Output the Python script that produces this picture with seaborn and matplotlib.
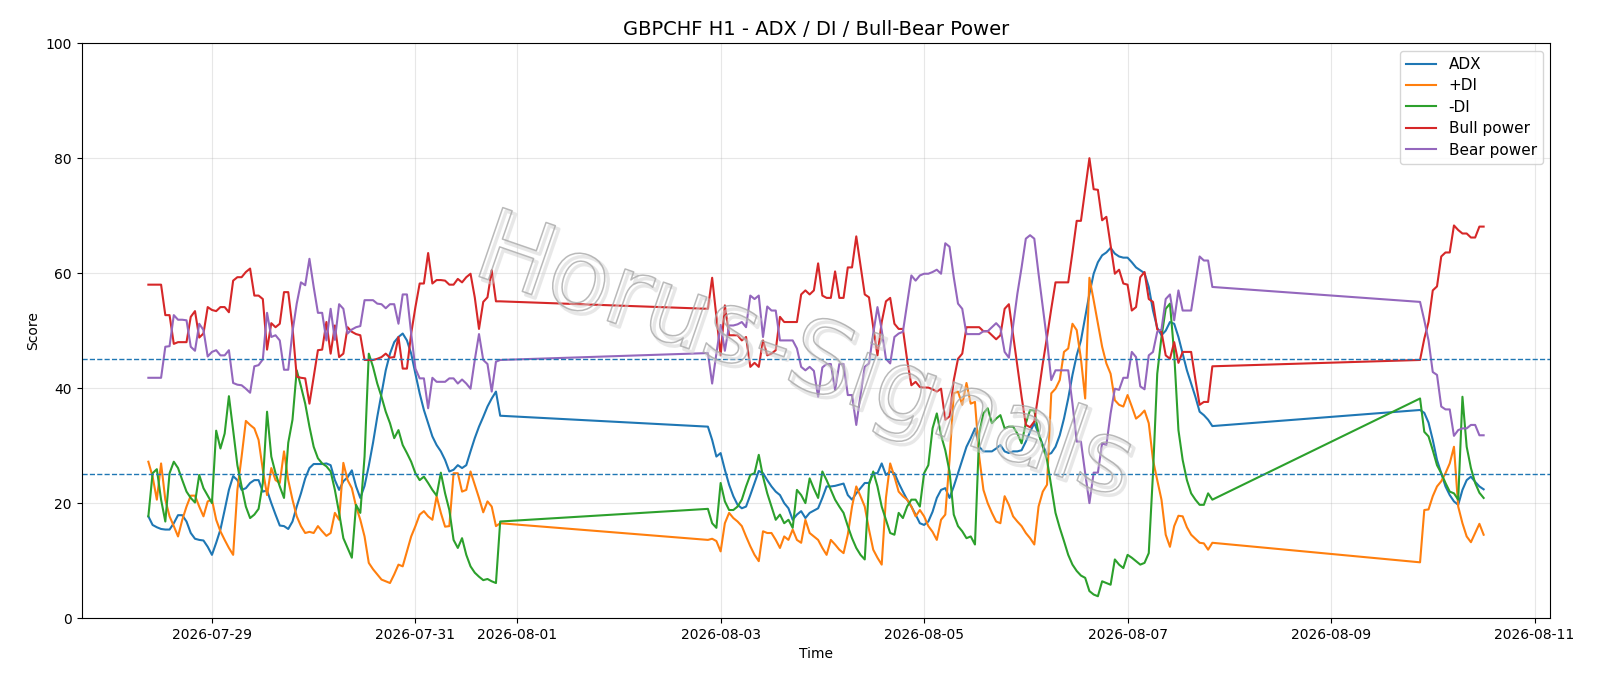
import numpy as np
import pandas as pd
import matplotlib
matplotlib.use('Agg')
import matplotlib.pyplot as plt
import matplotlib.dates as mdates
import matplotlib.patheffects as pe
import seaborn as sns

# hourly bars, three trading blocks (weekend gaps in between)
seg_starts = ['2026-07-28 09:00', '2026-08-02 21:00', '2026-08-09 21:00']

series_names = ['ADX', '+DI', '-DI', 'Bull power', 'Bear power']
levels = [25, 45]

adx_1 = [17.7, 16.2, 15.8, 15.5, 15.4, 15.4, 16.5, 17.9, 17.9, 16.8,
         14.8, 13.8, 13.6, 13.5, 12.4, 11.0, 13.1, 15.4, 18.8, 22.3,
         24.7, 24.0, 22.3, 22.6, 23.5, 24.0, 24.0, 22.0, 22.2, 20.0,
         18.0, 16.1, 16.0, 15.5, 16.8, 19.4, 21.7, 24.3, 26.1, 26.8,
         26.8, 26.8, 26.9, 26.6, 24.0, 22.3, 23.8, 24.5, 25.7, 22.9,
         20.9, 23.0, 26.5, 30.5, 35.0, 39.0, 43.1, 46.0, 48.0, 48.9,
         49.5, 48.3, 46.0, 42.5, 39.1, 36.2, 33.9, 31.6, 30.1, 29.0,
         27.5, 25.5, 25.8, 26.6, 26.1, 26.6, 29.0, 31.3, 33.3, 35.0,
         36.8, 38.2, 39.4, 35.2]
adx_2 = [33.3, 31.0, 28.1, 28.7, 25.8, 23.2, 21.2, 19.7, 19.1, 19.4,
         21.4, 23.5, 25.6, 25.2, 24.0, 22.9, 22.0, 21.4, 20.0, 19.1,
         17.1, 18.0, 18.6, 17.4, 18.3, 18.7, 19.1, 20.9, 22.9, 22.9,
         23.0, 23.2, 23.4, 21.4, 20.6, 21.7, 22.6, 23.5, 23.5, 25.2,
         25.2, 26.9, 24.9, 25.5, 25.2, 23.5, 22.0, 20.6, 19.4, 18.0,
         16.5, 16.2, 16.8, 18.5, 20.9, 22.3, 22.6, 20.9, 22.9, 25.2,
         27.5, 29.8, 31.3, 33.0, 29.8, 29.0, 29.0, 29.0, 29.5, 30.1,
         29.0, 28.7, 29.0, 29.0, 29.2, 30.7, 32.4, 33.9, 32.1, 30.1,
         28.4, 28.7, 29.8, 31.8, 34.7, 38.2, 42.3, 45.7, 48.3, 52.4,
         56.4, 59.9, 61.9, 63.1, 63.6, 64.4, 63.4, 62.9, 62.7, 62.7,
         61.9, 61.0, 60.5, 60.0, 57.6, 53.5, 50.5, 49.2, 50.0, 51.5,
         51.2, 48.9, 46.0, 43.1, 40.8, 38.5, 35.9, 35.3, 34.5, 33.4]
adx_3 = [36.2, 35.7, 34.0, 31.0, 27.5, 25.2, 22.9, 21.4, 20.3, 19.7,
         22.3, 24.0, 24.6, 23.7, 22.9, 22.4]

pdi_1 = [27.2, 24.6, 20.6, 26.9, 20.6, 17.7, 16.0, 14.2, 17.1, 19.4,
         21.3, 21.3, 19.4, 17.7, 20.3, 20.6, 17.1, 15.1, 13.6, 12.2,
         11.0, 22.3, 28.1, 34.3, 33.6, 33.0, 31.0, 25.8, 21.4, 26.1,
         24.0, 23.5, 29.0, 24.0, 20.6, 17.7, 16.0, 14.8, 15.0, 14.8,
         16.0, 15.1, 14.3, 14.8, 18.3, 17.1, 27.0, 24.0, 22.6, 19.4,
         17.1, 14.2, 9.6, 8.5, 7.6, 6.7, 6.4, 6.1, 7.6, 9.3,
         9.0, 11.6, 14.2, 16.0, 18.0, 18.6, 17.7, 17.1, 21.2, 18.3,
         15.9, 16.0, 25.2, 25.2, 22.0, 22.3, 25.5, 23.2, 20.9, 18.4,
         20.3, 19.4, 16.0, 16.5]
pdi_2 = [13.6, 13.8, 13.4, 11.6, 16.5, 18.3, 17.4, 16.8, 16.0, 14.2,
         12.5, 11.0, 9.9, 15.1, 14.8, 14.8, 13.6, 12.2, 14.2, 13.6,
         15.4, 13.6, 13.1, 17.1, 14.8, 14.2, 13.6, 12.2, 11.0, 13.6,
         12.8, 11.9, 11.3, 14.5, 19.4, 22.9, 21.2, 19.4, 15.4, 11.9,
         10.5, 9.3, 20.9, 26.9, 24.6, 22.0, 21.2, 20.6, 19.4, 17.7,
         18.8, 17.7, 16.0, 15.0, 13.6, 17.1, 18.0, 27.5, 39.1, 39.4,
         37.1, 40.9, 37.3, 37.6, 28.1, 22.3, 20.0, 18.3, 16.8, 16.5,
         21.2, 19.7, 17.7, 16.8, 16.0, 14.8, 13.9, 12.8, 19.4, 22.0,
         23.2, 39.1, 39.9, 41.4, 46.3, 46.9, 51.2, 50.1, 45.1, 38.2,
         59.2, 55.3, 51.2, 47.2, 44.3, 42.5, 37.9, 37.1, 36.8, 38.8,
         36.8, 34.7, 35.3, 36.1, 33.9, 27.5, 24.0, 20.6, 14.5, 12.4,
         16.0, 17.8, 17.7, 15.8, 14.5, 13.8, 13.1, 13.0, 11.9, 13.1]
pdi_3 = [9.7, 18.8, 18.9, 21.2, 22.9, 23.8, 25.2, 26.9, 29.8, 19.4,
         16.5, 14.2, 13.2, 14.8, 16.4, 14.5]

mdi_1 = [17.7, 25.2, 25.9, 20.6, 16.8, 25.2, 27.2, 26.1, 24.0, 22.0,
         20.9, 20.1, 24.9, 22.6, 21.3, 20.0, 32.6, 29.5, 32.1, 38.6,
         32.7, 26.6, 22.9, 19.4, 17.4, 18.0, 19.0, 23.5, 35.9, 28.1,
         25.2, 22.9, 20.9, 30.5, 34.5, 43.1, 40.3, 37.3, 33.3, 29.8,
         27.8, 26.9, 26.4, 25.5, 22.3, 18.3, 13.9, 12.2, 10.5, 19.7,
         18.3, 28.1, 46.0, 43.7, 40.8, 38.5, 35.9, 33.9, 31.3, 32.7,
         30.1, 28.7, 27.2, 25.2, 24.0, 24.6, 23.5, 22.3, 21.3, 25.3,
         21.7, 18.8, 13.6, 12.2, 13.9, 11.0, 9.0, 7.9, 7.2, 6.6,
         6.8, 6.4, 6.1, 16.8]
mdi_2 = [19.0, 16.5, 15.7, 23.5, 20.3, 18.8, 18.8, 19.4, 20.6, 22.9,
         24.9, 25.2, 28.4, 24.6, 21.7, 19.4, 17.1, 18.0, 16.5, 17.1,
         15.7, 22.3, 21.4, 20.0, 24.3, 22.5, 20.9, 25.5, 24.0, 22.3,
         20.6, 19.4, 18.3, 16.0, 13.9, 12.2, 11.0, 10.2, 23.2, 25.5,
         22.9, 19.4, 17.1, 14.8, 14.5, 18.3, 17.4, 19.4, 20.6, 20.6,
         19.4, 25.2, 26.6, 33.0, 35.6, 31.8, 29.2, 25.5, 18.0, 16.0,
         15.1, 13.9, 14.2, 12.8, 32.1, 35.6, 36.5, 33.9, 34.7, 35.3,
         33.0, 33.3, 33.3, 32.1, 30.4, 33.9, 36.2, 36.1, 32.1, 29.8,
         27.5, 22.9, 18.3, 15.7, 13.4, 11.0, 9.3, 8.2, 7.4, 7.0,
         4.7, 4.1, 3.8, 6.4, 6.1, 5.8, 10.2, 9.3, 8.7, 11.0,
         10.5, 9.9, 9.3, 9.6, 11.3, 25.2, 42.5, 48.9, 53.8, 54.7,
         46.0, 32.7, 27.5, 24.0, 21.7, 20.6, 19.7, 19.7, 21.7, 20.6]
mdi_3 = [38.2, 32.4, 31.6, 29.2, 26.6, 25.2, 23.5, 22.0, 21.7, 20.6,
         38.5, 29.8, 26.1, 23.5, 21.8, 20.9]

bull_1 = [58.0, 58.0, 58.0, 58.0, 52.7, 52.7, 47.7, 48.0, 48.0, 48.0,
          52.4, 53.4, 48.8, 49.5, 54.1, 53.6, 53.4, 54.1, 54.1, 53.2,
          58.7, 59.3, 59.3, 60.2, 60.8, 56.1, 56.1, 55.5, 46.7, 51.3,
          50.6, 51.2, 56.7, 56.7, 50.6, 42.0, 41.8, 41.7, 37.3, 42.0,
          46.6, 46.7, 51.5, 46.0, 50.9, 45.4, 46.0, 50.6, 49.8, 49.4,
          49.2, 44.9, 44.9, 44.9, 45.1, 45.4, 46.0, 45.3, 45.4, 48.9,
          43.4, 43.4, 49.5, 54.1, 58.2, 58.2, 63.5, 58.2, 58.8, 58.8,
          58.7, 58.0, 58.0, 59.0, 58.4, 59.3, 59.9, 55.8, 50.3, 55.0,
          55.8, 60.5, 55.1, 55.1]
bull_2 = [53.8, 59.2, 52.4, 45.7, 54.4, 49.2, 49.2, 49.2, 48.3, 48.9,
          43.7, 44.4, 43.7, 48.3, 45.7, 46.0, 46.6, 52.4, 51.5, 51.5,
          51.5, 51.5, 56.3, 57.0, 56.3, 57.0, 61.7, 56.1, 55.7, 55.7,
          60.3, 55.7, 55.7, 61.0, 61.0, 66.4, 61.3, 56.3, 55.8, 50.6,
          45.7, 51.5, 55.1, 55.7, 51.2, 50.3, 50.3, 44.9, 40.5, 41.1,
          40.2, 40.1, 40.1, 39.8, 39.4, 39.9, 34.5, 35.1, 41.4, 45.1,
          46.0, 50.6, 50.6, 50.6, 50.6, 49.9, 49.9, 49.2, 48.5, 49.2,
          53.8, 54.6, 49.2, 43.7, 38.5, 33.6, 33.2, 34.2, 39.1, 44.3,
          48.9, 53.8, 58.4, 58.4, 58.4, 58.4, 63.6, 69.1, 69.1, 74.6,
          80.0, 74.6, 74.5, 69.2, 69.8, 64.8, 59.9, 60.6, 58.2, 58.0,
          53.5, 54.1, 59.3, 60.2, 55.5, 55.0, 50.2, 49.8, 45.7, 45.1,
          48.0, 44.4, 46.3, 46.3, 46.3, 41.5, 37.1, 37.6, 37.6, 43.8]
bull_3 = [44.9, 48.6, 51.5, 57.0, 57.7, 62.9, 63.6, 63.6, 68.3, 67.5,
          66.9, 66.9, 66.2, 66.2, 68.1, 68.1]

bear_1 = [41.8, 41.8, 41.8, 41.8, 47.2, 47.3, 52.7, 51.9, 51.9, 51.8,
          47.2, 46.5, 51.2, 50.1, 45.5, 46.3, 46.6, 45.7, 45.7, 46.6,
          40.9, 40.6, 40.5, 39.9, 39.2, 43.8, 44.0, 45.0, 53.1, 48.9,
          49.2, 48.3, 43.2, 43.2, 49.8, 54.7, 58.4, 57.9, 62.5, 57.6,
          53.1, 53.1, 48.3, 53.8, 48.4, 54.6, 53.8, 49.5, 50.2, 50.6,
          50.8, 55.3, 55.3, 55.3, 54.7, 54.6, 53.9, 54.6, 54.6, 51.2,
          56.3, 56.3, 49.5, 43.4, 41.7, 41.7, 36.5, 41.8, 41.1, 41.1,
          41.1, 41.7, 41.7, 40.8, 41.5, 40.8, 39.9, 44.9, 49.4, 44.9,
          44.2, 39.4, 44.6, 44.9]
bear_2 = [46.1, 40.8, 46.0, 51.0, 46.5, 50.9, 50.9, 51.1, 51.5, 50.6,
          56.1, 55.5, 56.1, 48.9, 54.2, 53.5, 53.5, 48.3, 48.3, 48.3,
          48.3, 46.9, 43.7, 43.1, 43.7, 43.0, 38.5, 43.6, 44.2, 44.2,
          39.7, 44.2, 44.2, 38.8, 38.8, 33.6, 38.8, 43.7, 44.3, 49.5,
          54.1, 50.1, 45.1, 44.3, 48.9, 49.5, 49.8, 54.7, 59.6, 58.7,
          59.6, 59.9, 59.9, 60.2, 60.6, 59.9, 65.2, 64.6, 59.3, 54.7,
          53.8, 49.4, 49.4, 49.4, 49.4, 49.9, 49.9, 50.6, 51.3, 50.5,
          46.3, 45.3, 50.9, 56.4, 61.0, 66.0, 66.6, 66.0, 59.9, 54.1,
          48.3, 41.4, 43.1, 43.1, 43.1, 43.1, 37.3, 30.7, 30.7, 25.2,
          20.0, 25.3, 25.3, 30.4, 30.1, 35.6, 39.9, 39.7, 41.8, 41.8,
          46.3, 45.4, 40.3, 39.8, 45.7, 46.3, 49.8, 50.2, 55.5, 56.3,
          51.8, 57.0, 53.5, 53.5, 53.5, 58.2, 62.9, 62.2, 62.2, 57.6]
bear_3 = [55.0, 51.8, 48.3, 42.8, 42.3, 36.8, 36.3, 36.3, 31.7, 32.7,
          33.0, 33.0, 33.6, 33.6, 31.8, 31.8]


def build_frame():
    seg_lens = [len(adx_1), len(adx_2), len(adx_3)]
    times = pd.DatetimeIndex(np.concatenate(
        [pd.date_range(s, periods=n, freq='h').values for s, n in zip(seg_starts, seg_lens)]))
    wide = pd.DataFrame({
        'time': times,
        'ADX': adx_1 + adx_2 + adx_3,
        '+DI': pdi_1 + pdi_2 + pdi_3,
        '-DI': mdi_1 + mdi_2 + mdi_3,
        'Bull power': bull_1 + bull_2 + bull_3,
        'Bear power': bear_1 + bear_2 + bear_3,
    })
    return wide.melt(id_vars='time', var_name='series', value_name='score')


def main():
    df = build_frame()

    fig, ax = plt.subplots(figsize=(16, 6.86), dpi=100)
    fig.subplots_adjust(left=0.051, right=0.969, bottom=0.099, top=0.937)

    sns.lineplot(data=df, x='time', y='score', hue='series', hue_order=series_names,
                 palette=sns.color_palette('tab10', 5), linewidth=1.5,
                 errorbar=None, ax=ax)

    for lv in levels:
        ax.axhline(lv, color='#1f77b4', linestyle='--', linewidth=1)

    ax.set_ylim(0, 100)
    ax.xaxis.set_major_locator(mdates.DayLocator(bymonthday=range(1, 32, 2)))
    ax.xaxis.set_major_formatter(mdates.DateFormatter('%Y-%m-%d'))
    ax.grid(True, alpha=0.3)
    ax.set_title('GBPCHF H1 - ADX / DI / Bull-Bear Power', fontsize=14)
    ax.set_xlabel('Time')
    ax.set_ylabel('Score')
    sns.move_legend(ax, 'upper right', title=None, fontsize=11, labelspacing=0.42)

    # watermark: outlined letters only (no fill)
    ax.text(0.492, 0.45, 'Horus-Signals', transform=ax.transAxes, rotation=-19,
            fontsize=72, ha='center', va='center', color=(1, 1, 1, 0), zorder=5,
            path_effects=[pe.Stroke(offset=(2.5, -2.5), linewidth=2.5, foreground=(0.82, 0.82, 0.82, 0.5)),
                          pe.Stroke(linewidth=1.1, foreground=(0.66, 0.66, 0.66, 0.8))])

    fig.savefig('out.png', dpi=100)
    plt.close(fig)


if __name__ == '__main__':
    main()
